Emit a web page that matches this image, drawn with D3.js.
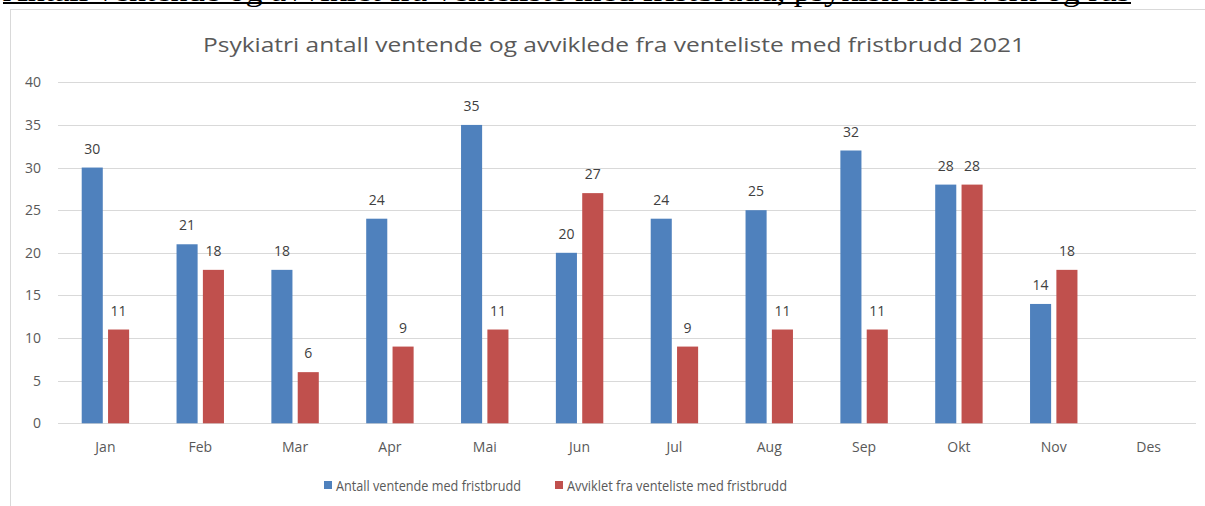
<!DOCTYPE html>
<html><head><meta charset="utf-8">
<script src="https://cdn.jsdelivr.net/npm/d3@7"></script>
<style>body{margin:0;background:#fff;overflow:hidden}svg{display:block}</style>
</head><body>
<svg id="c" width="1205" height="506"></svg>
<script>
const months = ["Jan","Feb","Mar","Apr","Mai","Jun","Jul","Aug","Sep","Okt","Nov","Des"];
const seriesNames = ["Antall ventende med fristbrudd","Avviklet fra venteliste med fristbrudd"];
const ventende = [30,21,18,24,35,20,24,25,32,28,14,null];
const avviklet = [11,18,6,9,11,27,9,11,11,28,18,null];
const yTicks = [0,5,10,15,20,25,30,35,40];
const colors = ["#4F81BD","#C0504D"];
const docHeading = "Antall ventende og avviklet fra venteliste med fristbrudd, psykisk helsevern og rus";
const chartTitle = "Psykiatri antall ventende og avviklede fra venteliste med fristbrudd 2021";

const svg = d3.select("#c");
const font = "'Open Sans', 'Liberation Sans', sans-serif";

// cut-off document heading (cropped at the top in the reference)
svg.append("text").attr("x",3).attr("y",1).attr("font-family","'Liberation Serif', serif")
  .attr("font-size",30).attr("fill","#000").attr("textLength",1127).attr("lengthAdjust","spacingAndGlyphs")
  .text(docHeading);
svg.append("line").attr("x1",3).attr("x2",1131).attr("y1",3).attr("y2",3).attr("stroke","#000").attr("stroke-width",2);

// chart frame
svg.append("rect").attr("x",10.5).attr("y",9.5).attr("width",1300).attr("height",600)
  .attr("fill","#fff").attr("stroke","#d9d9d9");

svg.append("text").attr("x",614).attr("y",52).attr("text-anchor","middle").attr("font-family",font)
  .attr("font-size",19.5).attr("fill","#595959").attr("textLength",822).attr("lengthAdjust","spacingAndGlyphs")
  .text(chartTitle);

const x0 = d3.scaleBand().domain(months).range([58,1196]).paddingInner(0.5).paddingOuter(0.25);
const x1 = d3.scaleBand().domain([0,1]).range([0,x0.bandwidth()]).paddingInner(0.2);
const y = d3.scaleLinear().domain([0,40]).range([423.3,82.3]);

// gridlines
svg.append("g").selectAll("line").data(yTicks).join("line")
  .attr("x1",58).attr("x2",1196).attr("y1",d=>Math.round(y(d))+0.5).attr("y2",d=>Math.round(y(d))+0.5)
  .attr("stroke","#d9d9d9").attr("stroke-width",1);

// y axis labels
svg.append("g").selectAll("text").data(yTicks).join("text")
  .attr("x",41).attr("y",d=>y(d)+5).attr("text-anchor","end").attr("font-family",font)
  .attr("font-size",14).attr("fill","#595959").text(d=>d);

// x axis labels
svg.append("g").selectAll("text").data(months).join("text")
  .attr("x",d=>x0(d)+x0.bandwidth()/2).attr("y",452).attr("text-anchor","middle").attr("font-family",font)
  .attr("font-size",14).attr("fill","#595959").text(d=>d);

const data = months.map((m,i)=>({m, vals:[ventende[i],avviklet[i]]}));
const g = svg.append("g");
data.forEach(d=>{
  d.vals.forEach((v,s)=>{
    if(v==null) return;
    g.append("rect").attr("x",x0(d.m)+x1(s)).attr("y",y(v)).attr("width",x1.bandwidth())
      .attr("height",y(0)-y(v)).attr("fill",colors[s]);
    g.append("text").attr("x",x0(d.m)+x1(s)+x1.bandwidth()/2).attr("y",y(v)-14)
      .attr("text-anchor","middle").attr("font-family",font).attr("font-size",14).attr("fill","#404040").text(v);
  });
});

// legend
const legX = [324,555];
const legW = [185,220];
seriesNames.forEach((n,i)=>{
  svg.append("rect").attr("x",legX[i]).attr("y",481).attr("width",8).attr("height",8).attr("fill",colors[i]);
  svg.append("text").attr("x",legX[i]+12).attr("y",491).attr("font-family",font).attr("font-size",14)
    .attr("fill","#595959").attr("textLength",legW[i]).attr("lengthAdjust","spacingAndGlyphs").text(n);
});
</script>
</body></html>
